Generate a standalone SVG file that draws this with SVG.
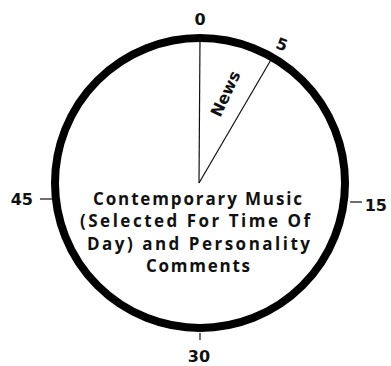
<svg xmlns="http://www.w3.org/2000/svg" width="391" height="366" viewBox="0 0 391 366">
<style>
.lbl{font-family:"DejaVu Sans","Liberation Sans",sans-serif;font-size:16px;font-weight:bold;fill:#111;}
.body{font-family:"Open Sans","DejaVu Sans",sans-serif;font-size:17px;font-weight:bold;fill:#111;text-anchor:middle;}
.thin{stroke:#111;stroke-width:1.2;fill:none;}
</style>
<rect width="391" height="366" fill="#fff"/>
<g id="dial">
<circle cx="200" cy="183" r="145" fill="none" stroke="#000" stroke-width="8"/>
</g>
<g id="connectors">
<line class="thin" x1="200" y1="38" x2="199" y2="183"/>
<line class="thin" x1="272" y1="58" x2="199" y2="183"/>
<line class="thin" x1="40" y1="199" x2="52" y2="199"/>
<line class="thin" x1="350" y1="202" x2="362" y2="202"/>
<line class="thin" x1="200" y1="333" x2="200" y2="340"/>
</g>
<g id="marks">
<text class="lbl" x="200" y="25" text-anchor="middle">0</text>
<text class="lbl" x="282" y="50" text-anchor="middle" transform="rotate(20 282 44)">5</text>
<text class="lbl" x="33" y="205" text-anchor="end">45</text>
<text class="lbl" x="387" y="211" text-anchor="end">15</text>
<text class="lbl" x="199" y="362" text-anchor="middle">30</text>
</g>
<g id="news">
<text class="lbl" x="226" y="99" text-anchor="middle" font-size="15" transform="rotate(-65 226 94)">News</text>
</g>
<g id="content">
<text class="body" x="197.5" y="205" textLength="209" lengthAdjust="spacing">Contemporary Music</text>
<text class="body" x="195" y="227" textLength="230" lengthAdjust="spacing">(Selected For Time Of</text>
<text class="body" x="198.5" y="250" textLength="223" lengthAdjust="spacing">Day) and Personality</text>
<text class="body" x="198" y="272" textLength="104" lengthAdjust="spacing">Comments</text>
</g>
</svg>
